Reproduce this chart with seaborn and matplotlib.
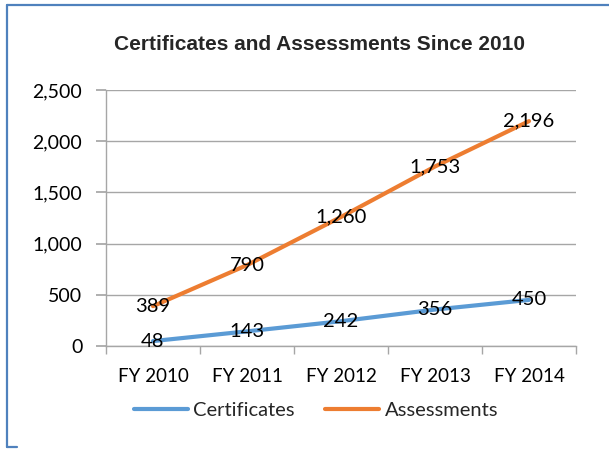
import matplotlib
matplotlib.use("Agg")
import matplotlib.pyplot as plt
import seaborn as sns
import pandas as pd
import numpy as np
from matplotlib.lines import Line2D
from matplotlib.ticker import FuncFormatter, MultipleLocator

categories = ["FY 2010", "FY 2011", "FY 2012", "FY 2013", "FY 2014"]
certificates = [48, 143, 242, 356, 450]
assessments = [389, 790, 1260, 1753, 2196]
series_names = ["Certificates", "Assessments"]
colors = ["#5B9BD5", "#ED7D31"]

df = pd.DataFrame({
    "Year": categories * 2,
    "Value": certificates + assessments,
    "Series": [series_names[0]] * 5 + [series_names[1]] * 5,
})

sns.set_theme(style="white")
plt.rcParams['font.family'] = ['Lato', 'DejaVu Sans']

W, H = 609, 449
fig = plt.figure(figsize=(W / 100, H / 100), dpi=100)
x0, x1, y0, y1 = 106, 576, 90, 346
ax = fig.add_axes([x0 / W, 1 - y1 / H, (x1 - x0) / W, (y1 - y0) / H])

sns.lineplot(data=df, x="Year", y="Value", hue="Series", palette=colors,
             linewidth=3, ax=ax, legend=False, sort=False)

ax.set_xlim(-0.5, 4.5)
ax.set_ylim(0, 2500)
ax.yaxis.set_major_locator(MultipleLocator(500))
ax.yaxis.set_major_formatter(FuncFormatter(lambda v, p: f"{int(v):,}"))
ax.grid(axis="y", color="#A6A6A6", linewidth=1)
ax.set_axisbelow(True)
for s in ["top", "right"]:
    ax.spines[s].set_visible(False)
for s in ["left", "bottom"]:
    ax.spines[s].set_color("#A6A6A6")
    ax.spines[s].set_linewidth(1)

ax.set_xticks(range(len(categories)))
ax.set_xticklabels(categories)
ax.set_xticks(np.arange(-0.5, 5, 1), minor=True)
ax.tick_params(axis="x", which="major", length=0, pad=16, labelsize=13.5, colors="black")
ax.tick_params(axis="x", which="minor", length=6, color="#A6A6A6", direction="out", bottom=True)
ax.tick_params(axis="y", length=7, color="#A6A6A6", direction="out", left=True,
               labelsize=14, pad=10, labelcolor="black")
ax.set_xlabel("")
ax.set_ylabel("")

for vals in (certificates, assessments):
    for i, v in enumerate(vals):
        ax.text(i, v, f"{v:,}", ha="center", va="center", fontsize=14.5, color="black")

fig.text(320 / W, 1 - 45 / H, "Certificates and Assessments Since 2010",
         ha="center", va="center", fontsize=15, fontweight="bold",
         family=["Liberation Sans", "DejaVu Sans"])

handles = [Line2D([0], [0], color=c, linewidth=3) for c in colors]
fig.legend(handles, series_names, loc="center", bbox_to_anchor=(316 / W, 1 - 410 / H),
           ncol=2, frameon=False, fontsize=14.5, handlelength=2.7, handletextpad=0.25,
           columnspacing=1.5)

border = "#4F81BD"
fig.add_artist(Line2D([7 / W, 1.0], [1 - 5 / H, 1 - 5 / H], color=border, linewidth=1.6,
                      transform=fig.transFigure))
fig.add_artist(Line2D([7 / W, 7 / W], [1 - 5 / H, 1 - 447 / H], color=border, linewidth=1.6,
                      transform=fig.transFigure))
fig.add_artist(Line2D([7 / W, 17 / W], [1 - 447 / H, 1 - 447 / H], color=border, linewidth=1.6,
                      transform=fig.transFigure))

fig.savefig("out.png", dpi=100, facecolor="white")
